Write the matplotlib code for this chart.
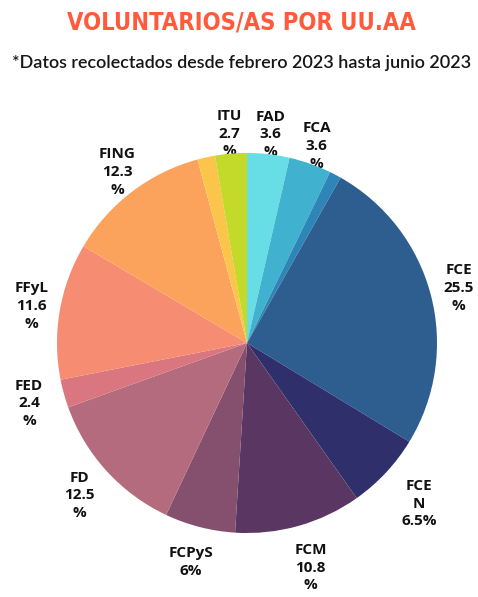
import numpy as np
import matplotlib.pyplot as plt

# Voluntarios/as por unidad academica (%), clockwise from the top
labels = ['FAD', 'FCA', '', 'FCE', 'FCE\nN', 'FCM', 'FCPyS', 'FD', 'FED', 'FFyL', 'FING', '', 'ITU']
values = [3.6, 3.6, 1.0, 25.5, 6.5, 10.8, 6.0, 12.5, 2.4, 11.6, 12.3, 1.5, 2.7]
pct_text = ['3.6\n%', '3.6\n%', '', '25.5\n%', '6.5%', '10.8\n%', '6%', '12.5\n%', '2.4\n%', '11.6\n%', '12.3\n%', '', '2.7\n%']
colors = ['#67dde6', '#40b2cf', '#2e86b8', '#2d5e8f', '#2e2f6b', '#5a3663', '#84506e',
          '#b56b7e', '#d9767f', '#f68d73', '#fba25c', '#fbc44a', '#c3da2a']
label_dist = [1.105, 1.10, 1.1, 1.15, 1.24, 1.23, 1.19, 1.19, 1.19, 1.15, 1.13, 1.1, 1.105]

fig = plt.figure(figsize=(4.78, 5.97), dpi=100)
ax = fig.add_axes([0, 0, 1, 1])

wedges, _ = ax.pie(values, colors=colors, startangle=90, counterclock=False, radius=1.0)
# pie resets limits/aspect, so fix them afterwards
ax.set_aspect('auto')
ax.set_xlim(-1.3, 1.2158)
ax.set_ylim(-1.3368, 1.805)
ax.axis('off')

for w, lab, pct, d in zip(wedges, labels, pct_text, label_dist):
    if not lab:
        continue
    ang = np.deg2rad((w.theta1 + w.theta2) / 2)
    x, y = d * np.cos(ang), d * np.sin(ang)
    ax.text(x, y, lab + '\n' + pct, ha='center', va='center', fontsize=11,
            fontweight='bold', family='Open Sans', color='#111111',
            linespacing=1.33, zorder=0)

fig.text(0.505, 0.963, 'VOLUNTARIOS/AS POR UU.AA', ha='center', va='center',
         fontsize=17, fontweight='bold', color='#ff5a3c', family='DejaVu Sans',
         fontstretch='condensed')
fig.text(0.505, 0.894, '*Datos recolectados desde febrero 2023 hasta junio 2023',
         ha='center', va='center', fontsize=13, fontweight='semibold',
         color='#161616', family='Lato')

fig.savefig('out.png', dpi=100)
